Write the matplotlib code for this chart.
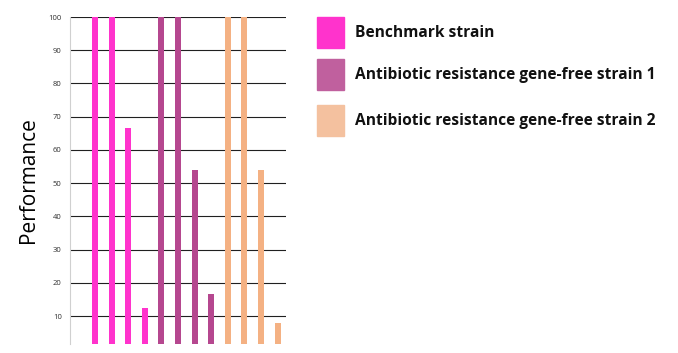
import matplotlib.pyplot as plt
from matplotlib.patches import Rectangle

series_names = [
    "Benchmark strain",
    "Antibiotic resistance gene-free strain 1",
    "Antibiotic resistance gene-free strain 2",
]
benchmark = [100, 100, 66.7, 12.5]
strain_1 = [100, 100, 54, 16.5]
strain_2 = [100, 100, 54, 8]
bar_colors = ["#FF33CC", "#B5478F", "#F4B183"]
legend_colors = ["#FF33CC", "#C0609E", "#F4C19F"]
y_ticks = [10, 20, 30, 40, 50, 60, 70, 80, 90, 100]

plt.rcParams["font.family"] = ["Open Sans", "DejaVu Sans"]

fig = plt.figure(figsize=(6.78, 3.53), dpi=100)
ax = fig.add_axes([70 / 678, 9 / 353, 216 / 678, 327 / 353])

all_series = [benchmark, strain_1, strain_2]
pos = 0
for values, color in zip(all_series, bar_colors):
    xs = list(range(pos, pos + len(values)))
    ax.bar(xs, values, width=0.36, color=color, zorder=3)
    pos += len(values)

ax.set_xlim(-1.5, 11.5)
ax.set_ylim(1.6, 100)
ax.set_yticks(y_ticks)
ax.set_yticklabels([str(t) for t in y_ticks], fontsize=5.5, color="#303030")
ax.set_xticks([])
ax.tick_params(axis="y", length=0, pad=6)
ax.grid(axis="y", color="#202020", linewidth=0.8, zorder=1)
for side in ["top", "right", "bottom"]:
    ax.spines[side].set_visible(False)
ax.spines["left"].set_color("#d0d0d0")
ax.spines["left"].set_linewidth(0.8)
ax.set_ylabel("Performance", fontsize=15, labelpad=7)

# legend drawn as squares + labels in figure coords
box_y = [17, 59, 105]
for name, color, y in zip(series_names, legend_colors, box_y):
    fig.patches.append(Rectangle((317 / 678, 1 - (y + 31) / 353), 27 / 678, 31 / 353,
                                 transform=fig.transFigure, color=color))
    fig.text(355 / 678, 1 - (y + 16) / 353, name, fontsize=11.2, fontweight="bold",
             va="center", ha="left", color="#111111")

fig.savefig("out.png", dpi=100)
